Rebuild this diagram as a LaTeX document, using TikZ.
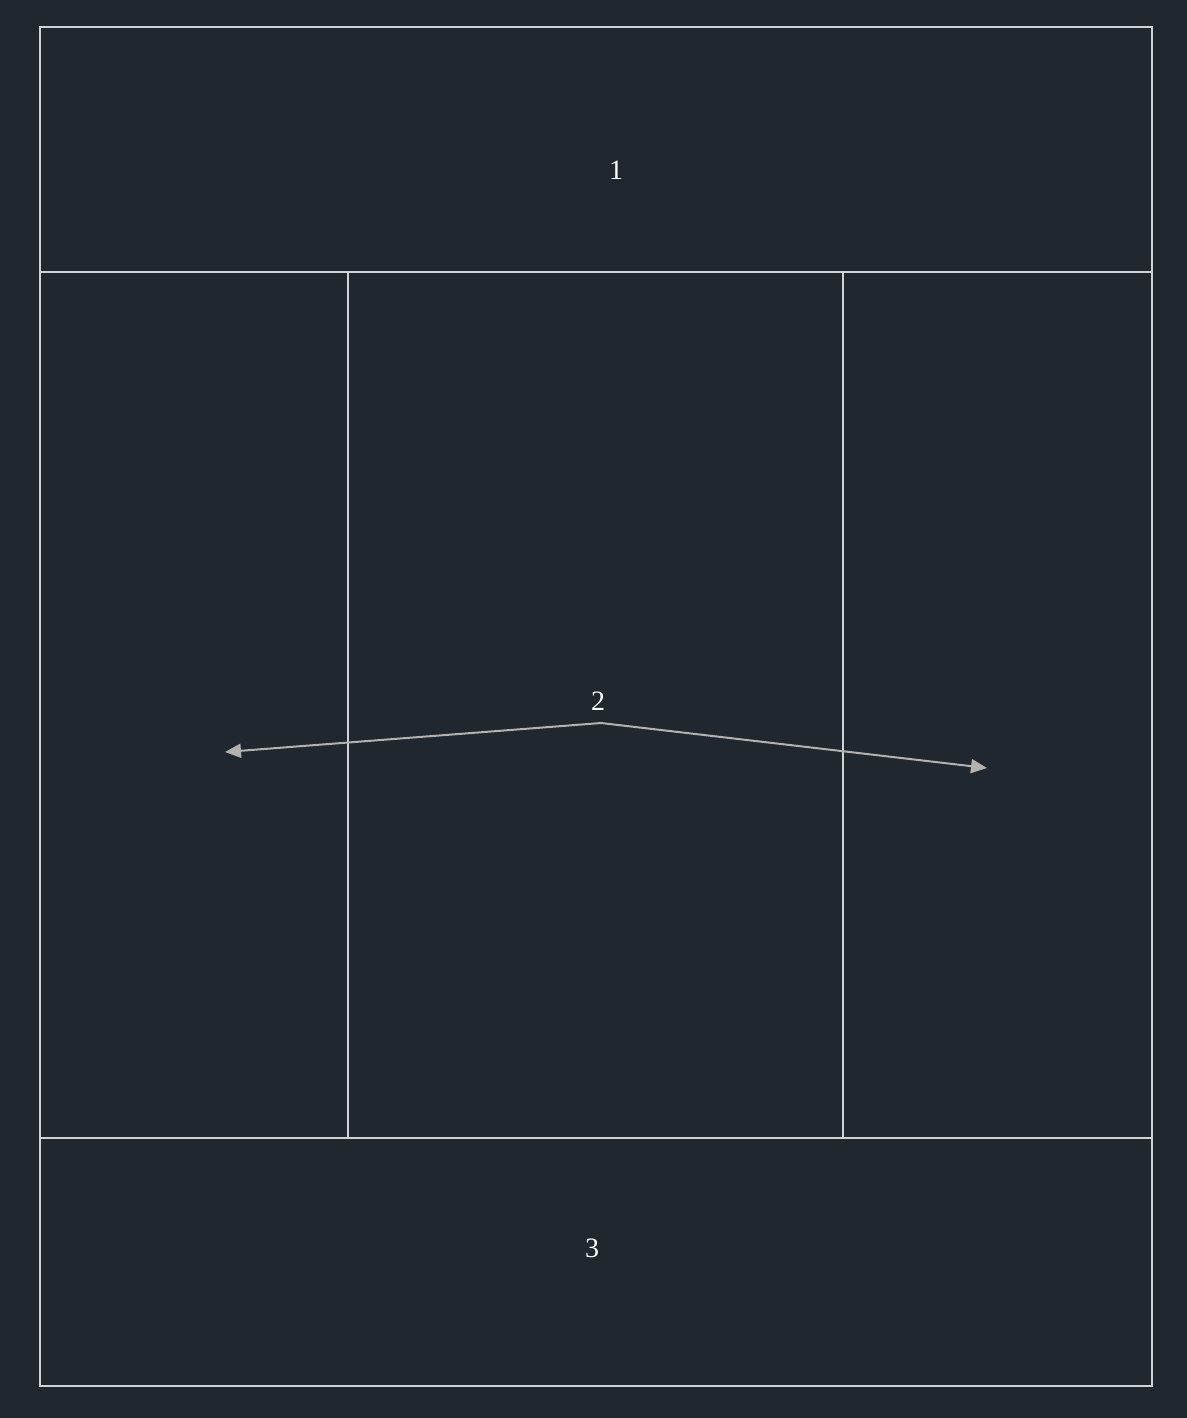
\documentclass[tikz,border=0pt]{standalone}
\usepackage{fontspec}
\setmainfont{Liberation Serif}
\usetikzlibrary{arrows.meta}
\definecolor{bg}{HTML}{21272F}
\definecolor{ln}{HTML}{D2D2D2}
\definecolor{ar}{HTML}{B4B2B0}
\begin{document}
\begin{tikzpicture}[x=0.5pt,y=-0.5pt,
  court/.style={draw=ln,line width=1pt},
  lbl/.style={text=white,font=\fontsize{14}{16}\selectfont,inner sep=0pt},
  dir/.style={draw=ar,line width=1pt,-{Triangle[length=8pt,width=7pt]}}]
\fill[bg] (0,0) rectangle (1187,1418);
\useasboundingbox (0,0) rectangle (1187,1418);
\draw[court] (40,27) rectangle (1152,1386);
\draw[court] (40,272) -- (1152,272);
\draw[court] (40,1138) -- (1152,1138);
\draw[court] (348,272) -- (348,1138);
\draw[court] (843,272) -- (843,1138);
\node[lbl] (l1) at (616,170) {1};
\node[lbl] (l2) at (598,701) {2};
\node[lbl] (l3) at (592,1248) {3};
\coordinate (mid) at (601,723);
\coordinate (leftend) at (225,752);
\coordinate (rightend) at (987,768);
\draw[dir] (mid) -- (leftend);
\draw[dir] (mid) -- (rightend);
\end{tikzpicture}
\end{document}
